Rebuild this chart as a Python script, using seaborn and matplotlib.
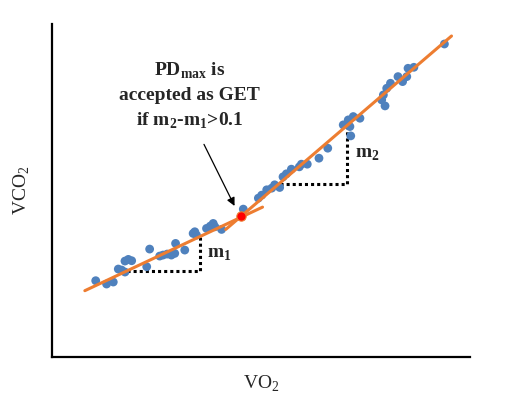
import numpy as np
import pandas as pd
import matplotlib
matplotlib.use("Agg")
import matplotlib.pyplot as plt
import seaborn as sns

# ============================================================
# datos (unidades arbitrarias 0-100)
# ============================================================
vo2_low = [10.5, 13.1, 14.7, 15.9, 16.7, 17.5, 17.5, 18.3, 19.1, 22.7, 23.4, 25.8, 26.6,
           27.6, 28.6, 29.4, 29.6, 31.8, 33.8, 34.2, 34.6, 37.0, 37.9, 38.6, 39.0, 40.6, 45.8]
vco2_low = [22.9, 21.9, 22.5, 26.4, 26.1, 25.5, 28.8, 29.3, 28.9, 27.1, 32.4, 30.3, 30.6,
            30.9, 30.6, 31.1, 34.1, 32.1, 37.1, 37.6, 36.6, 38.6, 39.3, 40.1, 39.1, 38.3, 44.4]

vo2_high = [49.4, 50.2, 51.4, 52.6, 53.3, 54.5, 55.3, 56.1, 57.3, 59.2, 59.7, 61.1, 63.9,
            66.0, 69.7, 70.9, 71.3, 72.1, 71.5, 73.7, 78.9, 79.7, 79.3, 80.1, 81.0, 82.8,
            83.9, 84.9, 85.2, 86.6, 93.9]
vco2_high = [47.7, 48.6, 50.2, 50.7, 51.7, 50.9, 54.1, 55.0, 56.4, 57.1, 57.9, 57.9, 59.7,
             62.7, 69.7, 71.2, 69.2, 72.2, 66.4, 71.7, 77.2, 75.4, 78.7, 80.7, 82.2, 84.2,
             82.7, 84.2, 86.7, 87.0, 94.0]

# rectas ajustadas (extremos)
fit1_x = [7.9, 50.4]
fit1_y = [19.9, 45.0]
fit2_x = [41.6, 95.6]
fit2_y = [38.3, 96.4]

# punto de maxima distancia (PDmax)
pd_x = [45.3]
pd_y = [42.2]

# triangulos de pendiente
tri1_x = [17.9, 35.4, 35.4]
tri1_y = [25.9, 25.9, 36.1]
tri2_x = [54.5, 70.6, 70.6]
tri2_y = [52.0, 52.0, 69.7]

BLUE = "#4f81bd"
ORANGE = "#ed7d31"

# ============================================================
# figura
# ============================================================
sns.set_style("white")
plt.rcParams["font.family"] = ["Liberation Serif", "DejaVu Serif"]
plt.rcParams["mathtext.fontset"] = "custom"
plt.rcParams["mathtext.rm"] = "Liberation Serif"
plt.rcParams["mathtext.bf"] = "Liberation Serif:bold"

fig = plt.figure(figsize=(5.13, 4.07), dpi=100)
ax = fig.add_axes([0.101, 0.123, 0.815, 0.818])

df = pd.DataFrame({"VO2": vo2_low + vo2_high, "VCO2": vco2_low + vco2_high})
sns.scatterplot(data=df, x="VO2", y="VCO2", color=BLUE, s=40, edgecolor="none", ax=ax, zorder=2)

sns.lineplot(x=fit1_x, y=fit1_y, color=ORANGE, lw=2.2, ax=ax, zorder=3)
sns.lineplot(x=fit2_x, y=fit2_y, color=ORANGE, lw=2.2, ax=ax, zorder=3)

ax.plot(tri1_x, tri1_y, color="black", lw=2.2, ls=(0, (1, 1)), zorder=1)
ax.plot(tri2_x, tri2_y, color="black", lw=2.2, ls=(0, (1, 1)), zorder=1)

ax.scatter(pd_x, pd_y, color="#ff0000", s=45, edgecolor=ORANGE, linewidth=0.8, zorder=4)

ax.text(37.1, 30.9, r"m$_\mathbf{1}$", fontsize=14, fontweight="bold", va="center", ha="left")
ax.text(72.5, 60.7, r"m$_\mathbf{2}$", fontsize=14, fontweight="bold", va="center", ha="left")

ax.text(33.0, 78.3,
        "PD$_\\mathbf{max}$ is\naccepted as GET\nif m$_\\mathbf{2}$-m$_\\mathbf{1}$>0.1",
        fontsize=14, fontweight="bold", ha="center", va="center", linespacing=1.45)

ax.annotate("", xy=(44.0, 44.6), xytext=(36.1, 64.6),
            arrowprops=dict(arrowstyle="-|>", color="black", lw=0.9, mutation_scale=12))

ax.set_xlim(0, 100)
ax.set_ylim(0, 100)
ax.set_xticks([])
ax.set_yticks([])
ax.set_xlabel("VO$_2$", fontsize=14, labelpad=12)
ax.set_ylabel("VCO$_2$", fontsize=14, labelpad=14)

for side in ["top", "right"]:
    ax.spines[side].set_visible(False)
for side in ["left", "bottom"]:
    ax.spines[side].set_color("black")
    ax.spines[side].set_linewidth(1.6)

fig.savefig("out.png", dpi=100)
